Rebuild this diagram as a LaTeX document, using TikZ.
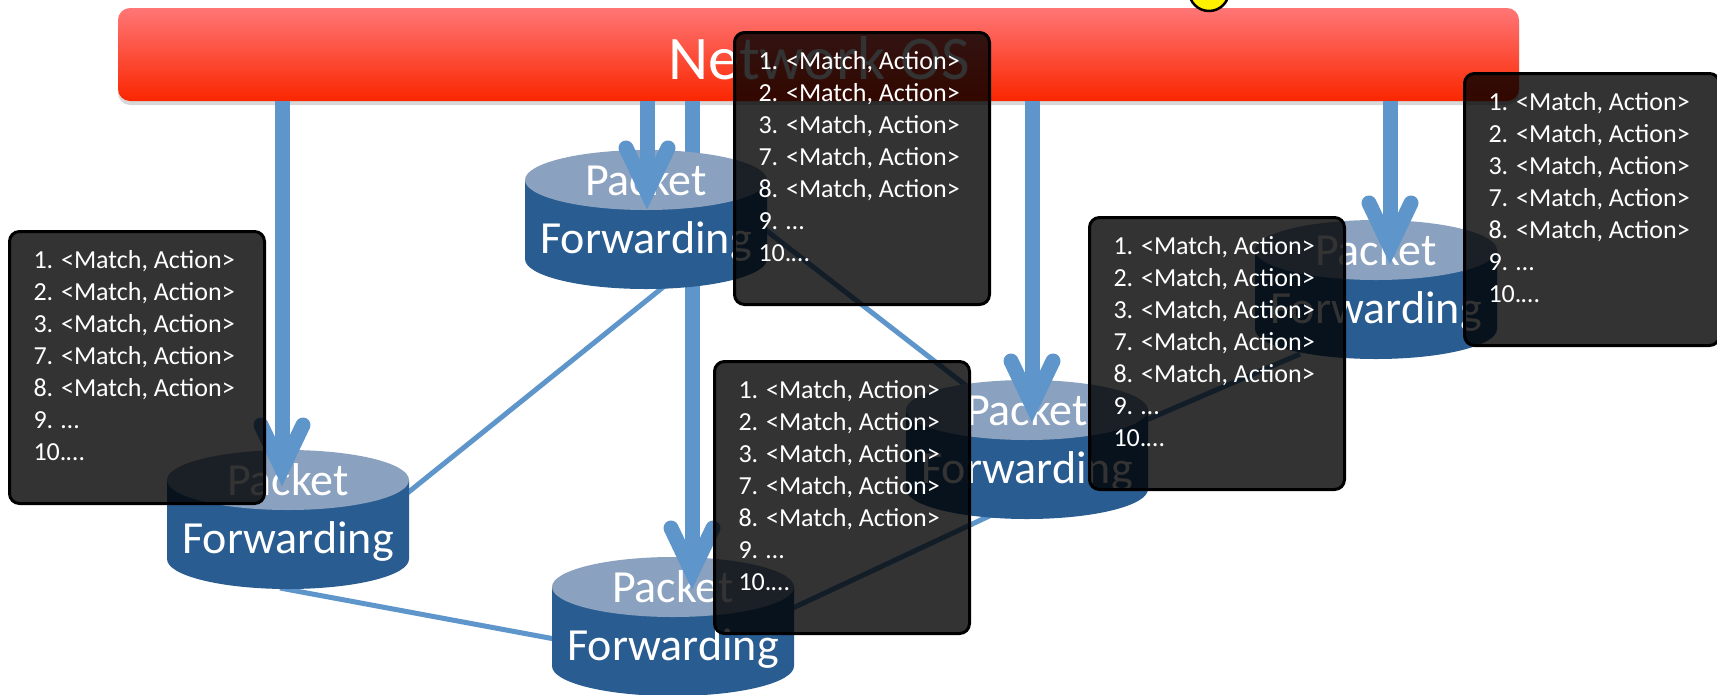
\documentclass[tikz,border=0pt]{standalone}
\usepackage{fontspec}
\setmainfont{Carlito}
\usetikzlibrary{calc,shadows}
\pgfdeclarelayer{background}
\pgfsetlayers{background,main}
\definecolor{arrowblue}{RGB}{94,149,203}
\definecolor{cylbody}{RGB}{41,92,144}
\definecolor{cyltop}{RGB}{138,162,191}
\definecolor{bartop}{RGB}{255,118,118}
\definecolor{barbot}{RGB}{250,38,0}
\tikzset{
  bigarrow/.style={draw=arrowblue, line width=15pt},
  chev/.style={draw=arrowblue, line width=15pt, line cap=round, line join=miter},
  link/.style={draw=arrowblue, line width=5pt},
  cyltext/.style={text=white, align=center, inner sep=0pt, font=\fontsize{46pt}{58pt}\selectfont},
  tbl/.style={draw=black, line width=3pt, fill=black, fill opacity=0.8, draw opacity=1,
    text opacity=1, text=white, rounded corners=10pt, inner sep=0pt,
    minimum width=255pt, minimum height=272pt, anchor=north west},
  barstyle/.style={rounded corners=12pt, top color=bartop, bottom color=barbot,
    minimum width=1401pt, minimum height=93pt, inner sep=0pt,
    drop shadow={shadow xshift=0pt, shadow yshift=-4pt, opacity=0.3}},
  bartext/.style={text=white, inner sep=0pt, font=\fontsize{62pt}{62pt}\selectfont},
  sunstyle/.style={circle, fill=yellow, draw=black, line width=2.5pt, minimum size=40pt, inner sep=0pt}
}
\newcommand\cylinderAt[3]{%
  \begin{scope}[shift={(#2,#3)}]
    \fill[cylbody] (-121,0) -- (-121,79) arc[start angle=180, end angle=360, x radius=121pt, y radius=30pt] -- (121,0) -- cycle;
    \fill[cyltop] (0,0) ellipse [x radius=121pt, y radius=30pt];
    \node[cyltext] (#1) at (0,32) {Packet\\Forwarding};
  \end{scope}}
\newcommand\vArrow[1]{%
  \draw[bigarrow] (bar.south -| #1) -- ($(#1)+(0,-30)$);
  \draw[chev] ($(#1)+(-21,-62)$) -- ($(#1)+(0,-18)$) -- ($(#1)+(21,-62)$);}
\newcommand\tabrows{\parbox[c][272pt][t]{207pt}{\raggedright\fontsize{26pt}{32pt}\selectfont
  \rule{0pt}{37pt}1. <Match, Action>\\2. <Match, Action>\\3. <Match, Action>\\7. <Match, Action>\\8. <Match, Action>\\9. …\\10.…}}
\begin{document}
\begin{tikzpicture}[x=1pt,y=-1pt]
\useasboundingbox (0,0) rectangle (1717,694);
\clip (0,0) rectangle (1717,694);
\coordinate (a1) at (282,487);
\coordinate (a2) at (647,210);
\coordinate (a3) at (692,590);
\coordinate (a4) at (1032,423);
\coordinate (a5) at (1390,265);
% controller bar
\node[barstyle] (bar) at (818.5,54.5) {};
\node[bartext, anchor=base] (os) at (819,79) {Network OS};
% switches
\cylinderAt{c1}{288}{480}
\cylinderAt{c3}{673}{587}
\cylinderAt{c4}{1027}{410}
\cylinderAt{c5}{1376}{250}
\vArrow{a3}
\cylinderAt{c2}{646}{180}
\vArrow{a1}
\vArrow{a2}
\vArrow{a4}
\vArrow{a5}
% links behind everything
\begin{pgfonlayer}{background}
  \fill[white] (0,0) rectangle (1717,694);
  \draw[link] ($(c1.center)+(107,-9)$) -- ($(c2.center)+(26,68)$);
  \draw[link] ($(c1.center)+(-8,76)$) -- ($(c3.center)+(-113,21)$);
  \draw[link] ($(c2.center)+(99,2)$) -- ($(c4.center)+(-27,-30)$);
  \draw[link] ($(c3.center)+(107,-5)$) -- ($(c4.center)+(-27,69)$);
  \draw[link] ($(c4.center)+(103,-15)$) -- ($(c5.center)+(-76,72)$);
\end{pgfonlayer}
\node[sunstyle] (sun) at (1209,-9) {};
% flow tables
\node[tbl] (t1) at (8,230) {\tabrows};
\node[tbl] (t2) at (733,31) {\tabrows};
\node[tbl] (t3) at (713,360) {\tabrows};
\node[tbl] (t4) at (1088,216) {\tabrows};
\node[tbl] (t5) at (1463,72) {\tabrows};
\end{tikzpicture}
\end{document}
